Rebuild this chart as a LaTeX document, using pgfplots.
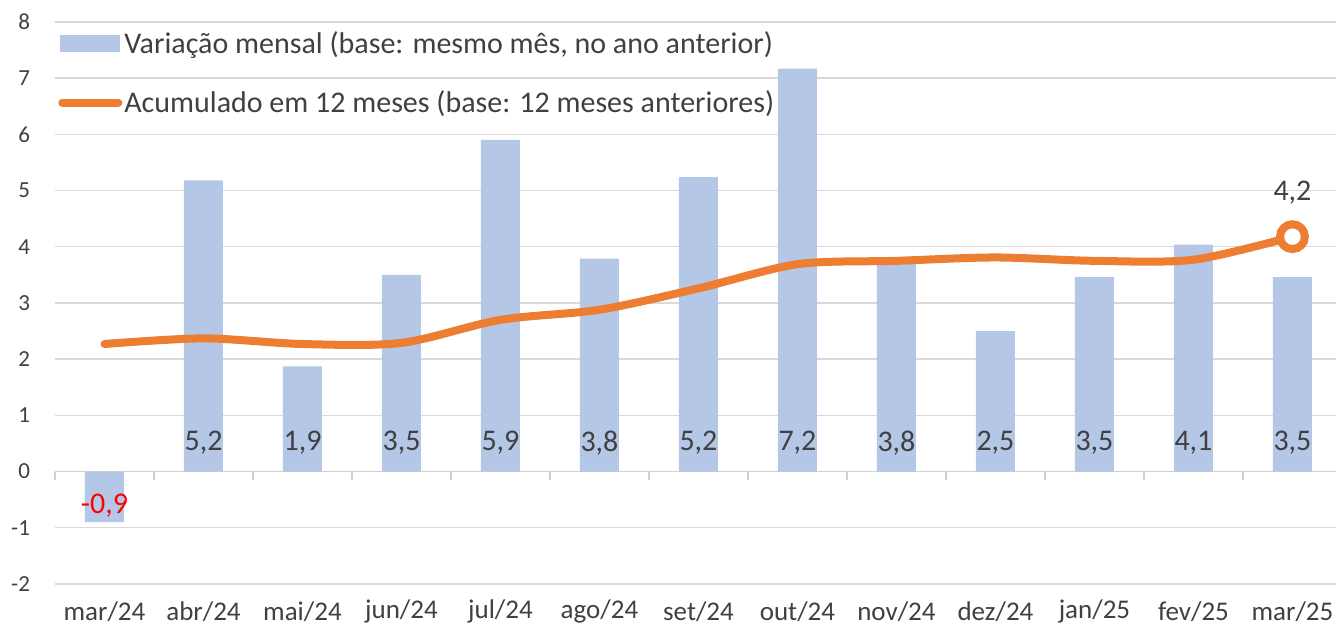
\documentclass[border=0pt]{standalone}
\usepackage{pgfplots}
\pgfplotsset{compat=1.18}
\usepackage{fontspec}
\setmainfont{Carlito}
\definecolor{barblue}{HTML}{B4C7E7}
\definecolor{lineorange}{HTML}{ED7D31}
\definecolor{gridgray}{HTML}{D9D9D9}
\definecolor{axisgray}{HTML}{D0D0D0}
\definecolor{textgray}{HTML}{404040}
\definecolor{labred}{HTML}{FF0000}
\pgfplotstableread{
x y
0 -0.9
1 5.18
2 1.87
3 3.5
4 5.9
5 3.79
6 5.24
7 7.17
8 3.8
9 2.5
10 3.46
11 4.04
12 3.46
}\barsdata
\pgfplotstableread{
x y
0 2.27
1 2.37
2 2.27
3 2.29
4 2.70
5 2.88
6 3.26
7 3.69
8 3.75
9 3.81
10 3.75
11 3.77
12 4.18
}\linedata
\pgfplotstableread{
x y lab
1 0.51 5,2
2 0.51 1,9
3 0.51 3,5
4 0.51 5,9
5 0.51 3,8
6 0.51 5,2
7 0.51 7,2
8 0.51 3,8
9 0.51 2,5
10 0.51 3,5
11 0.51 4,1
12 0.51 3,5
}\labdata
\begin{document}
\begin{tikzpicture}
\begin{axis}[
  scale only axis, width=640.5pt, height=281pt,
  xmin=-0.5, xmax=12.44, ymin=-2, ymax=8,
  clip=false,
  axis x line=middle, axis y line=left,
  x axis line style={-, draw=axisgray, line width=0.7pt},
  y axis line style={draw=none},
  ytick={-2,...,8}, ymajorgrids, grid style={gridgray, line width=0.7pt},
  xtick={0,...,12},
  xticklabels={mar/24,abr/24,mai/24,jun/24,jul/24,ago/24,set/24,out/24,nov/24,dez/24,jan/25,fev/25,mar/25},
  major x tick style={draw=none},
  major y tick style={draw=none},
  minor xtick={-0.5,0.5,...,11.5},
  minor x tick style={draw=axisgray, line width=0.7pt},
  minor tick length=4pt, major tick length=0pt, tick align=outside,
  xticklabel style={font=\fontsize{13.5}{15}\selectfont, text=textgray, anchor=center, yshift=-70pt},
  yticklabel style={font=\fontsize{11.5}{13}\selectfont, text=textgray, anchor=east, xshift=-9pt},
  /pgf/number format/assume math mode=true,
  legend style={at={(axis description cs:0.0023,0.988)}, anchor=north west, draw=none, fill=none,
    font=\fontsize{15}{17}\selectfont, text=textgray, inner sep=0pt, row sep=15pt,
    nodes={inner sep=1pt}},
  legend cell align=left,
]
\addlegendimage{legend image code/.code={\fill[barblue] (0pt,-4pt) rectangle (29.5pt,4pt);}}
\addlegendentry{Variação mensal (base: mesmo mês, no ano anterior)}
\addlegendimage{legend image code/.code={\draw[lineorange, line width=4pt, line cap=round] (1pt,0pt) -- (29pt,0pt);}}
\addlegendentry{Acumulado em 12 meses (base: 12 meses anteriores)}
\addplot[ybar, bar width=19.5pt, fill=barblue, draw=none, forget plot] table[x=x,y=y] {\barsdata};
\addplot[smooth, tension=0.5, lineorange, line width=4pt, line cap=round, line join=round, forget plot] table[x=x,y=y] {\linedata};
\addplot[only marks, mark=*, mark size=6.2pt, mark options={fill=white, draw=lineorange, line width=4pt}, forget plot,
  nodes near coords={4,2}, every node near coord/.style={anchor=center, yshift=22pt, font=\fontsize{15}{17}\selectfont, text=textgray}]
  coordinates {(12,4.18)};
\addplot[draw=none, mark=none, forget plot, nodes near coords, point meta=explicit symbolic,
  every node near coord/.style={anchor=center, font=\fontsize{15}{17}\selectfont, text=textgray}]
  table[x=x,y=y,meta=lab] {\labdata};
\addplot[draw=none, mark=none, forget plot, nodes near coords={-0,9},
  every node near coord/.style={anchor=center, font=\fontsize{15}{17}\selectfont, text=labred}]
  coordinates {(0,-0.61)};
\end{axis}
\pgfresetboundingbox
\path (-27.5pt,-23pt) rectangle (640.5pt,292pt);
\end{tikzpicture}
\end{document}
